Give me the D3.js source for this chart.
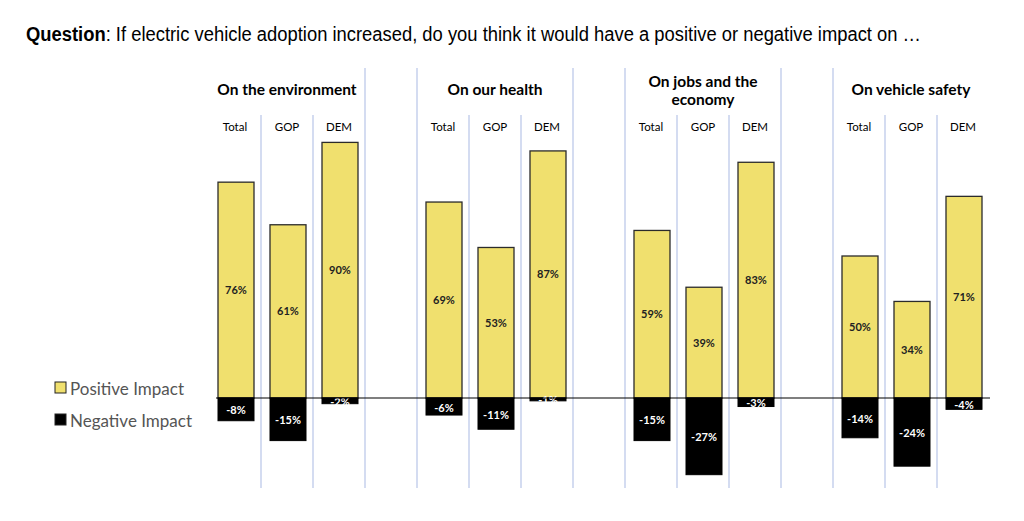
<!DOCTYPE html>
<html>
<head>
<meta charset="utf-8">
<script src="https://cdn.jsdelivr.net/npm/d3@7"></script>
<style>
  body { margin: 0; background: #fff; }
  svg { display: block; }
</style>
</head>
<body>
<script>
var groups = ["On the environment", "On our health", "On jobs and the economy", "On vehicle safety"];
var groupLines = [["On the environment"], ["On our health"], ["On jobs and the", "economy"], ["On vehicle safety"]];
var parties = ["Total", "GOP", "DEM"];
var positive = [[76, 61, 90], [69, 53, 87], [59, 39, 83], [50, 34, 71]];
var negative = [[-8, -15, -2], [-6, -11, -1], [-15, -27, -3], [-14, -24, -4]];

var W = 1024, H = 521;
var yellow = "#f0e06e";
var gridCol = "#c6d1ec";
var gill = "Lato, 'Open Sans', sans-serif";

var svg = d3.select("body").append("svg")
	.attr("width", W)
	.attr("height", H);

// question line
var q = svg.append("text")
	.attr("x", 26)
	.attr("y", 41)
	.style("font-family", "'Liberation Sans', Arial, sans-serif")
	.style("font-size", "20px")
	.attr("fill", "#000");
q.append("tspan").style("font-weight", "bold").text("Question");
q.append("tspan").text(":  If electric vehicle adoption increased, do you think it would have a positive or negative impact on \u2026");
q.attr("textLength", 895).attr("lengthAdjust", "spacingAndGlyphs");

var x0 = d3.scaleBand()
	.domain(groups)
	.range([209, 989])
	.paddingInner(0.25)
	.paddingOuter(0);

var x1 = d3.scaleBand()
	.domain(parties)
	.range([0, x0.bandwidth()]);

var y = d3.scaleLinear()
	.domain([-30, 100])
	.range([398 + 30 * 2.84, 398 - 100 * 2.84]);

var barW = 36;

// vertical separators
var gridTop = 68, subTop = 115, gridBottom = 488;
groups.forEach(function(g, gi) {
	var gx = x0(g);
	// lines after Total and GOP
	["Total", "GOP"].forEach(function(p) {
		var lx = gx + x1(p) + x1.bandwidth();
		svg.append("line")
			.attr("x1", lx).attr("x2", lx)
			.attr("y1", subTop).attr("y2", gridBottom)
			.attr("stroke", gridCol).attr("stroke-width", 1.5);
	});
	if (gi < groups.length - 1) {
		var ends = [gx + x0.bandwidth(), x0(groups[gi + 1])];
		ends.forEach(function(lx) {
			svg.append("line")
				.attr("x1", lx).attr("x2", lx)
				.attr("y1", gridTop).attr("y2", gridBottom)
				.attr("stroke", gridCol).attr("stroke-width", 1.5);
		});
	}
});

// group titles
groups.forEach(function(g, gi) {
	var cx = x0(g) + x0.bandwidth() / 2;
	var lines = groupLines[gi];
	var t = svg.append("text")
		.attr("text-anchor", "middle")
		.style("font-family", gill)
		.style("font-weight", "bold")
		.style("font-size", "15.5px")
		.attr("fill", "#000");
	lines.forEach(function(l, li) {
		var yy = lines.length == 1 ? 95 : 87 + li * 18;
		t.append("tspan").attr("x", cx).attr("y", yy).text(l);
	});
	parties.forEach(function(p) {
		svg.append("text")
			.attr("x", x0(g) + x1(p) + x1.bandwidth() / 2)
			.attr("y", 131)
			.attr("text-anchor", "middle")
			.style("font-family", gill)
			.style("font-size", "11.5px")
			.attr("fill", "#000")
			.text(p);
	});
});

// bars
groups.forEach(function(g, gi) {
	var gg = svg.append("g").attr("transform", "translate(" + x0(g) + ",0)");
	parties.forEach(function(p, pi) {
		var cx = x1(p) + x1.bandwidth() / 2 + 1;
		var pv = positive[gi][pi], nv = negative[gi][pi];
		gg.append("rect")
			.attr("x", cx - barW / 2)
			.attr("y", y(pv))
			.attr("width", barW)
			.attr("height", y(0) - y(pv))
			.attr("fill", yellow)
			.attr("stroke", "#2b2b2b")
			.attr("stroke-width", 1.3);
		gg.append("rect")
			.attr("x", cx - barW / 2)
			.attr("y", y(0))
			.attr("width", barW)
			.attr("height", y(nv) - y(0))
			.attr("fill", "#000")
			.attr("stroke", "#000")
			.attr("stroke-width", 1);
		gg.append("text")
			.attr("x", cx)
			.attr("y", (y(pv) + y(0)) / 2 + 4)
			.attr("text-anchor", "middle")
			.style("font-family", gill)
			.style("font-weight", "bold")
			.style("font-size", "11px")
			.attr("fill", "#222")
			.text(pv + "%");
		gg.append("text")
			.attr("x", cx)
			.attr("y", (y(nv) + y(0)) / 2 + 5)
			.attr("text-anchor", "middle")
			.style("font-family", gill)
			.style("font-weight", "bold")
			.style("font-size", "11px")
			.attr("fill", "#fff")
			.text(nv + "%");
	});
});

// zero line
svg.append("line")
	.attr("x1", 216).attr("x2", 990)
	.attr("y1", y(0)).attr("y2", y(0))
	.attr("stroke", "#000").attr("stroke-width", 1.2);

// legend
var legend = [{label: "Positive Impact", fill: yellow, y: 382}, {label: "Negative Impact", fill: "#000", y: 414}];
legend.forEach(function(d) {
	svg.append("rect")
		.attr("x", 55).attr("y", d.y)
		.attr("width", 11).attr("height", 11)
		.attr("fill", d.fill)
		.attr("stroke", "#222").attr("stroke-width", 1);
	svg.append("text")
		.attr("x", 70).attr("y", d.y + 13)
		.style("font-family", gill)
		.style("font-size", "17px")
		.attr("fill", "#555")
		.text(d.label);
});
</script>
</body>
</html>
